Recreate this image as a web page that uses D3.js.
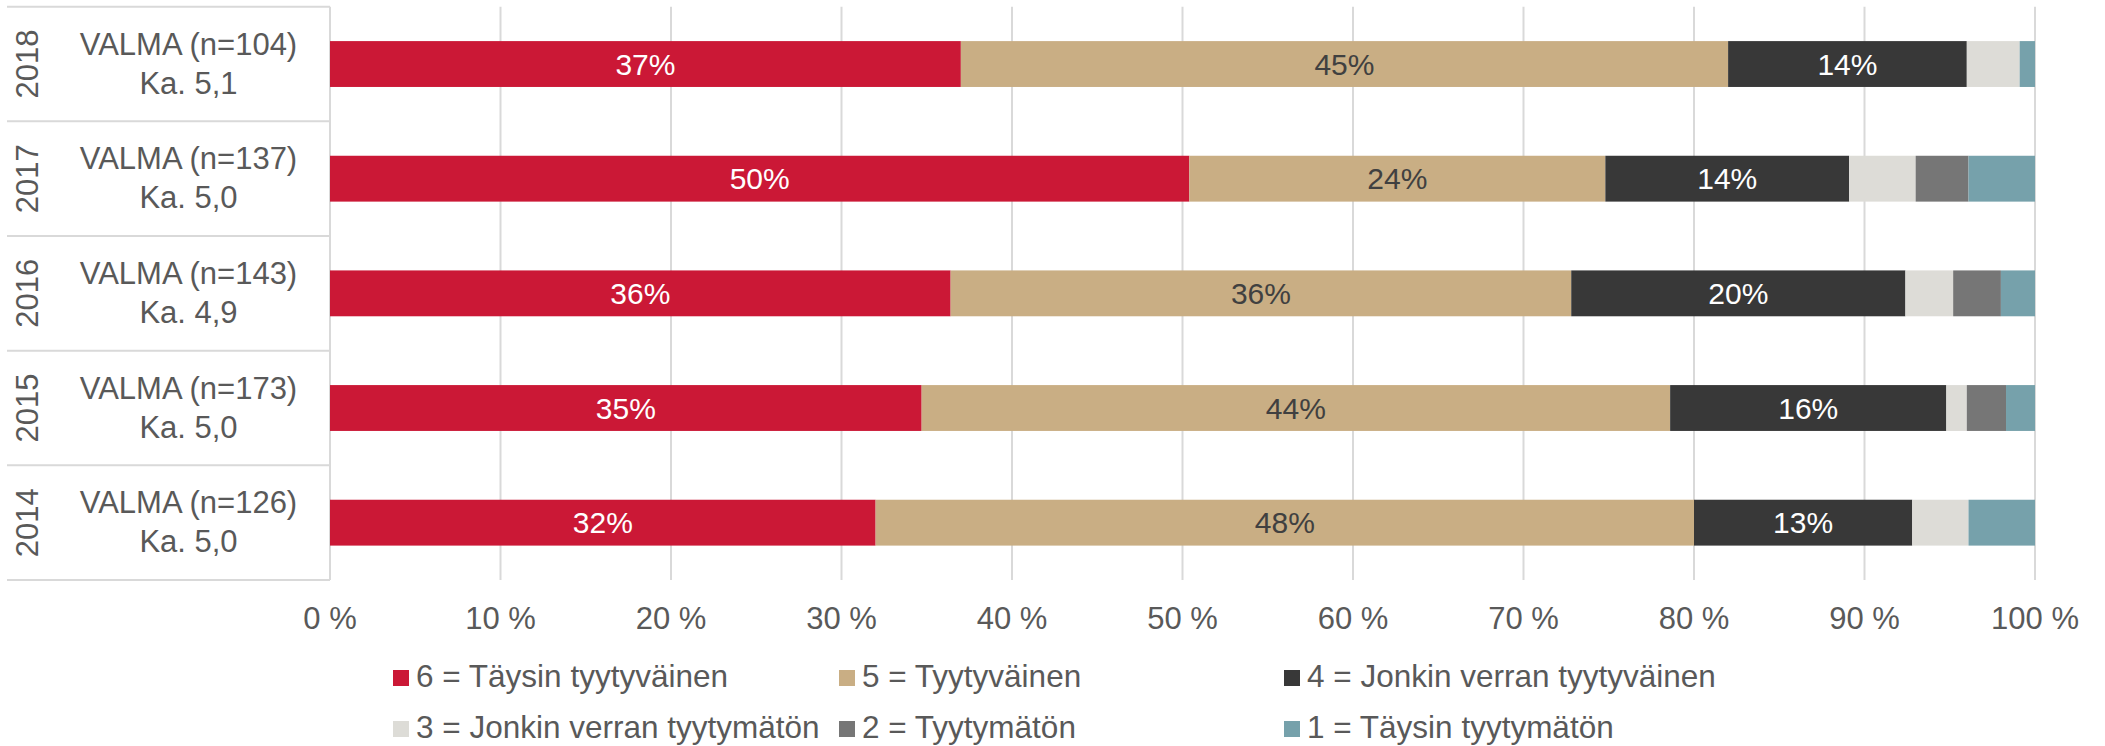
<!DOCTYPE html>
<html>
<head>
<meta charset="utf-8">
<script src="https://cdn.jsdelivr.net/npm/d3@7/dist/d3.min.js"></script>
<style>
  html, body { margin: 0; padding: 0; background: #ffffff; }
  svg { display: block; font-family: "Liberation Sans", Arial, sans-serif; }
</style>
</head>
<body>
<svg id="chart" width="2105" height="746"></svg>
<script>
// ---- data ----
const years = ["2018", "2017", "2016", "2015", "2014"];
const groupLabels = ["VALMA (n=104)", "VALMA (n=137)", "VALMA (n=143)", "VALMA (n=173)", "VALMA (n=126)"];
const averages = ["Ka. 5,1", "Ka. 5,0", "Ka. 4,9", "Ka. 5,0", "Ka. 5,0"];
const seriesNames = [
  "6 = Täysin tyytyväinen",
  "5 = Tyytyväinen",
  "4 = Jonkin verran tyytyväinen",
  "3 = Jonkin verran tyytymätön",
  "2 = Tyytymätön",
  "1 = Täysin tyytymätön"
];
// percentage per series, in order of years
const s6 = [37.0, 50.4, 36.4, 34.7, 32.0];
const s5 = [45.0, 24.4, 36.4, 43.9, 48.0];
const s4 = [14.0, 14.3, 19.6, 16.2, 12.8];
const s3 = [3.1, 3.9, 2.8, 1.2, 3.3];
const s2 = [0.0, 3.1, 2.8, 2.3, 0.0];
const s1 = [0.9, 3.9, 2.0, 1.7, 3.9];
const tickValues = [0, 10, 20, 30, 40, 50, 60, 70, 80, 90, 100];

const seriesValues = [s6, s5, s4, s3, s2, s1];
const colors = ["#cb1836", "#c9ae84", "#383838", "#dddcd7", "#767676", "#76a1ab"];
const labelColors = ["#ffffff", "#404040", "#ffffff", "#404040", "#ffffff", "#404040"];

// ---- layout ----
const svg = d3.select("#chart");
const plotLeft = 330, plotRight = 2035;
const plotTop = 6.7, plotBottom = 580;
const tableLeft = 7;
const textColor = "#595959";
const gridColor = "#d9d9d9";
const fs = 31;

const x = d3.scaleLinear().domain([0, 100]).range([plotLeft, plotRight]);
const y = d3.scaleBand().domain(years).range([plotTop, plotBottom]).paddingInner(0.6).paddingOuter(0.3);
const step = y.step();

// gridlines
svg.append("g").selectAll("line").data(tickValues).join("line")
  .attr("x1", d => x(d)).attr("x2", d => x(d))
  .attr("y1", plotTop).attr("y2", plotBottom)
  .attr("stroke", gridColor).attr("stroke-width", 2);

// table horizontal lines
const rowEdges = d3.range(years.length + 1).map(i => plotTop + i * step);
svg.append("g").selectAll("line").data(rowEdges).join("line")
  .attr("x1", tableLeft).attr("x2", plotLeft)
  .attr("y1", d => d).attr("y2", d => d)
  .attr("stroke", gridColor).attr("stroke-width", 2);

// stacked data
const rows = years.map((yr, i) => {
  let cum = 0;
  return seriesValues.map((arr, k) => {
    const seg = { year: yr, k, v: arr[i], x0: cum, x1: cum + arr[i] };
    cum += arr[i];
    return seg;
  });
}).flat();

const bars = svg.append("g");
bars.selectAll("rect").data(rows.filter(d => d.v > 0)).join("rect")
  .attr("x", d => x(d.x0))
  .attr("width", d => x(d.x1) - x(d.x0))
  .attr("y", d => y(d.year))
  .attr("height", y.bandwidth())
  .attr("fill", d => colors[d.k]);

// segment labels
bars.selectAll("text").data(rows.filter(d => d.v >= 8)).join("text")
  .attr("x", d => (x(d.x0) + x(d.x1)) / 2)
  .attr("y", d => y(d.year) + y.bandwidth() / 2)
  .attr("dy", "0.36em")
  .attr("text-anchor", "middle")
  .attr("font-size", 30)
  .attr("fill", d => labelColors[d.k])
  .text(d => Math.round(d.v) + "%");

// left table labels
const lab = svg.append("g");
years.forEach((yr, i) => {
  const cy = y(yr) + y.bandwidth() / 2;
  lab.append("text")
    .attr("transform", `translate(38,${cy}) rotate(-90)`)
    .attr("text-anchor", "middle")
    .attr("font-size", fs)
    .attr("fill", textColor)
    .text(yr);
  lab.append("text")
    .attr("x", 188.5).attr("y", cy - 9.5)
    .attr("text-anchor", "middle")
    .attr("font-size", fs)
    .attr("fill", textColor)
    .text(groupLabels[i]);
  lab.append("text")
    .attr("x", 188.5).attr("y", cy + 29.5)
    .attr("text-anchor", "middle")
    .attr("font-size", fs)
    .attr("fill", textColor)
    .text(averages[i]);
});

// x axis tick labels
svg.append("g").selectAll("text").data(tickValues).join("text")
  .attr("x", d => x(d)).attr("y", 629)
  .attr("text-anchor", "middle")
  .attr("font-size", fs)
  .attr("fill", textColor)
  .text(d => d + " %");

// legend
const legCols = [393, 839, 1284];
const legRows = [687, 738];
const leg = svg.append("g");
seriesNames.forEach((name, k) => {
  const cx = legCols[k % 3], by = legRows[Math.floor(k / 3)];
  leg.append("rect").attr("x", cx).attr("y", by - 17).attr("width", 16).attr("height", 16)
    .attr("fill", colors[k]);
  leg.append("text").attr("x", cx + 23).attr("y", by)
    .attr("font-size", 31.5).attr("fill", textColor).text(name);
});
</script>
</body>
</html>
